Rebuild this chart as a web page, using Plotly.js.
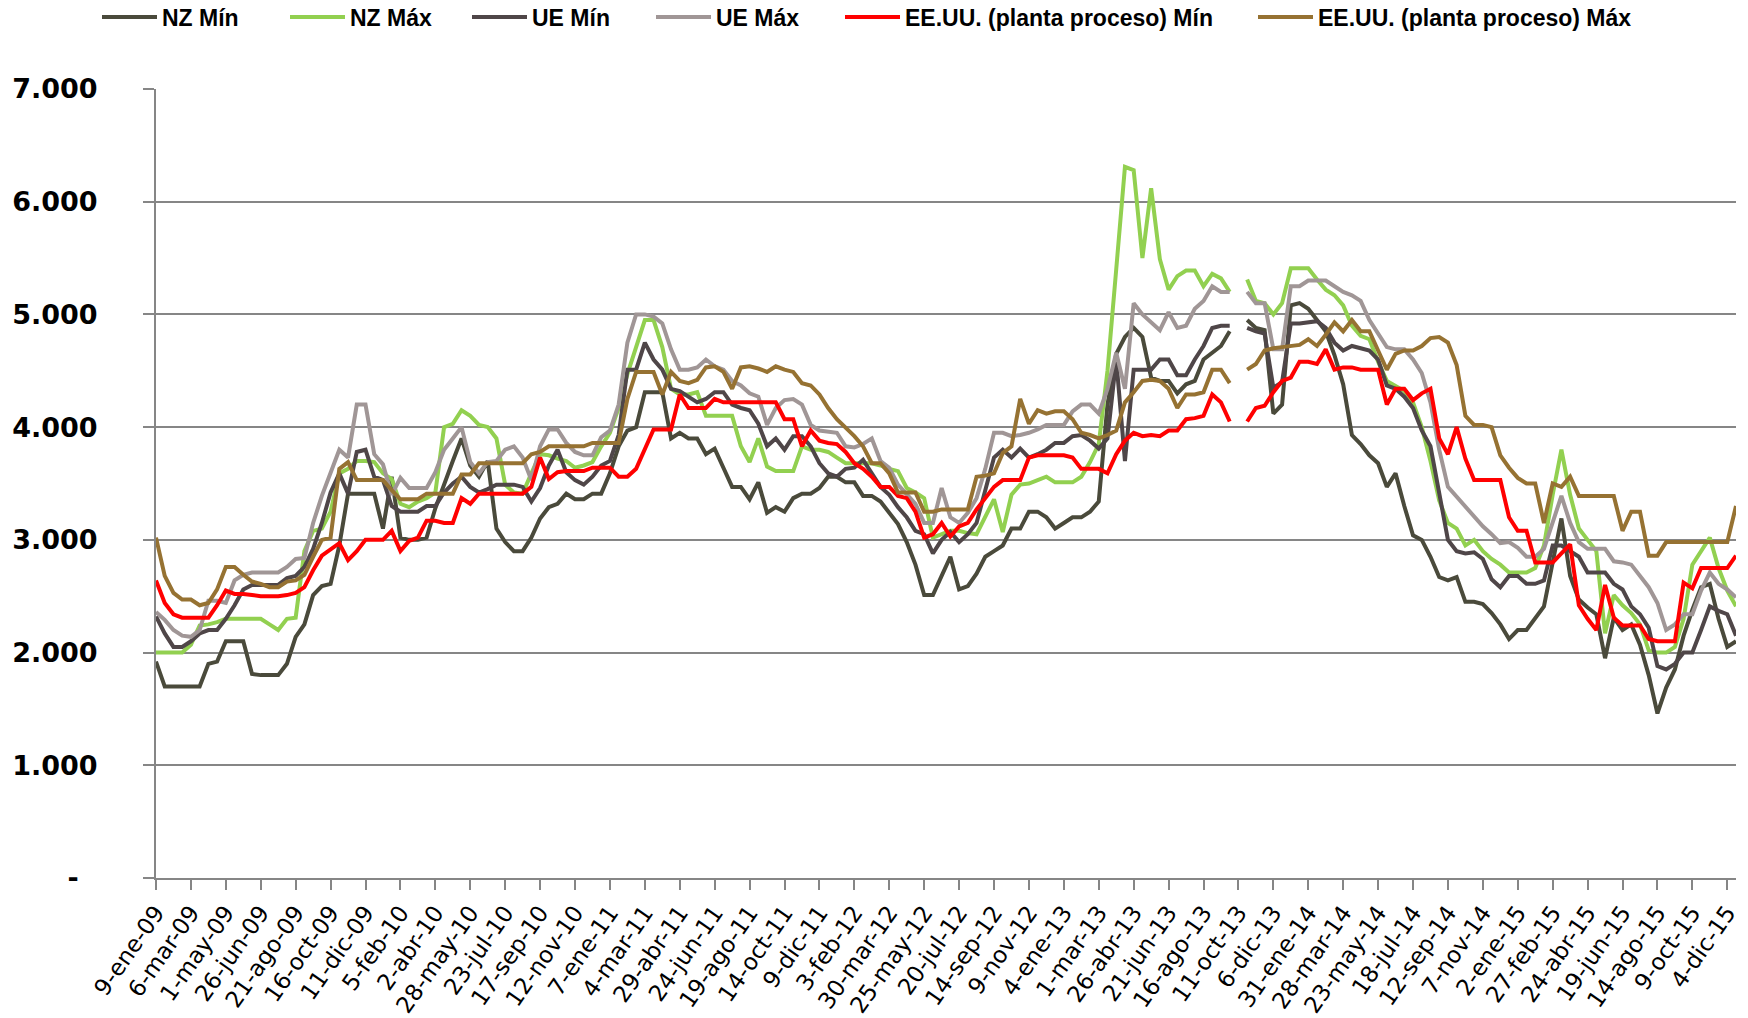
<!DOCTYPE html>
<html>
<head>
<meta charset="utf-8">
<script src="https://cdn.plot.ly/plotly-3.0.1.min.js"></script>
<style>
  html, body { margin: 0; padding: 0; background: #ffffff; }
  #chart { width: 1748px; height: 1018px; }
</style>
</head>
<body>
<div id="chart"></div>
<script>
// Tick labels (every 4th biweekly observation)
const tickLabels = ["9-ene-09","6-mar-09","1-may-09","26-jun-09","21-ago-09","16-oct-09","11-dic-09","5-feb-10","2-abr-10","28-may-10","23-jul-10","17-sep-10","12-nov-10","7-ene-11","4-mar-11","29-abr-11","24-jun-11","19-ago-11","14-oct-11","9-dic-11","3-feb-12","30-mar-12","25-may-12","20-jul-12","14-sep-12","9-nov-12","4-ene-13","1-mar-13","26-abr-13","21-jun-13","16-ago-13","11-oct-13","6-dic-13","31-ene-14","28-mar-14","23-may-14","18-jul-14","12-sep-14","7-nov-14","2-ene-15","27-feb-15","24-abr-15","19-jun-15","14-ago-15","9-oct-15","4-dic-15"];

const yTickValues = [0,1000,2000,3000,4000,5000,6000,7000];
const yTickLabels = ["-\u00a0\u00a0","1.000","2.000","3.000","4.000","5.000","6.000","7.000"];

const seriesNames = ["NZ Mín","NZ Máx","UE Mín","UE Máx","EE.UU. (planta proceso) Mín","EE.UU. (planta proceso) Máx"];

const nzMin = [1920,1700,1700,1700,1700,1700,1900,1920,2100,2100,
2100,1810,1800,1800,1800,1900,2140,2250,2510,2590,
2610,2950,3410,3410,3410,3410,3100,3560,3020,3000,
3000,3020,3280,3500,3700,3900,3660,3560,3700,3100,
2980,2900,2900,3020,3190,3290,3320,3410,3360,3360,
3410,3410,3590,3830,3970,4000,4310,4310,4310,3900,
3950,3900,3900,3760,3810,3640,3470,3470,3360,3510,
3240,3290,3250,3370,3410,3410,3460,3560,3560,3510,
3510,3390,3390,3340,3240,3140,2980,2780,2510,2510,
2680,2850,2560,2590,2700,2850,2900,2950,3100,3100,
3250,3250,3200,3100,3150,3200,3200,3250,3340,4200,
4650,4800,4880,4800,4440,4410,4410,4300,4380,4410,
4600,4660,4720,4850,null,4950,4880,4860,4120,4200,
5080,5100,5050,4950,4850,4640,4380,3930,3850,3750,
3680,3470,3590,3300,3040,3000,2850,2670,2640,2670,
2450,2450,2430,2350,2250,2120,2200,2200,2300,2410,
2800,3190,2680,2470,2400,2340,1950,2310,2200,2250,
2070,1800,1460,1690,1850,2150,2380,2580,2610,2300,
2050,2100];

const nzMax = [2000,2000,2000,2000,2070,2240,2250,2270,2300,2300,
2300,2300,2300,2250,2200,2300,2310,2900,3080,3100,
3250,3590,3630,3700,3700,3690,3590,3540,3320,3290,
3340,3370,3420,4000,4030,4150,4100,4020,4000,3900,
3490,3420,3410,3590,3760,3750,3720,3700,3640,3660,
3690,3830,3950,4170,4470,4710,4950,4950,4710,4340,
4290,4290,4310,4100,4100,4100,4100,3830,3690,3900,
3650,3610,3610,3610,3830,3800,3800,3780,3730,3680,
3680,3680,3680,3660,3630,3610,3460,3420,3370,3020,
3050,3080,3080,3060,3050,3200,3360,3070,3400,3490,
3500,3530,3560,3510,3510,3510,3560,3690,3850,4500,
5400,6310,6280,5500,6120,5490,5220,5340,5390,5390,
5250,5360,5320,5200,null,5310,5120,5100,5000,5100,
5410,5410,5410,5310,5220,5170,5080,4900,4810,4780,
4580,4410,4360,4320,4220,4000,3700,3350,3150,3100,
2950,3000,2900,2830,2780,2710,2710,2710,2750,2950,
3400,3800,3400,3100,3000,2900,2170,2510,2420,2350,
2250,2020,2000,2000,2050,2300,2780,2900,3020,2750,
2550,2410];

const ueMin = [2320,2170,2050,2050,2100,2170,2200,2200,2300,2420,
2560,2600,2600,2600,2600,2660,2680,2760,2920,3150,
3420,3590,3410,3780,3800,3560,3530,3300,3250,3250,
3250,3300,3300,3420,3500,3560,3470,3420,3450,3490,
3490,3490,3470,3340,3460,3660,3800,3600,3530,3490,
3560,3660,3700,3930,4510,4510,4750,4600,4510,4340,
4320,4270,4220,4250,4310,4310,4200,4170,4150,4030,
3830,3900,3800,3920,3920,3830,3680,3590,3560,3630,
3640,3710,3590,3470,3400,3290,3200,3080,3050,2880,
3000,3070,2980,3050,3150,3450,3730,3800,3730,3810,
3730,3760,3800,3860,3860,3920,3930,3880,3810,3900,
4600,3700,4510,4510,4510,4600,4600,4460,4460,4600,
4720,4880,4900,4900,null,4880,4850,4830,4350,4400,
4920,4920,4930,4940,4880,4750,4680,4720,4700,4680,
4600,4370,4340,4270,4170,3970,3830,3400,3000,2900,
2880,2890,2830,2650,2580,2680,2680,2610,2610,2640,
2950,2950,2900,2850,2710,2710,2710,2610,2560,2410,
2340,2220,1880,1850,1900,2000,2000,2200,2410,2370,
2340,2150];

const ueMax = [2360,2290,2200,2150,2140,2200,2460,2460,2440,2640,
2690,2710,2710,2710,2710,2760,2830,2840,3150,3390,
3590,3800,3730,4200,4200,3760,3670,3400,3550,3460,
3460,3460,3600,3800,3900,4000,3690,3590,3690,3700,
3800,3830,3730,3530,3830,3980,3980,3860,3780,3750,
3750,3910,3970,4200,4750,5000,5000,4980,4920,4690,
4510,4510,4530,4600,4540,4510,4410,4370,4300,4270,
4020,4170,4240,4250,4200,4020,3970,3960,3950,3830,
3820,3850,3900,3700,3640,3490,3400,3320,3150,3150,
3460,3200,3150,3240,3370,3630,3950,3950,3920,3930,
3950,3980,4020,4020,4020,4140,4200,4200,4120,4340,
4660,4340,5100,5000,4930,4860,5020,4880,4900,5050,
5120,5250,5200,5200,null,5200,5100,5100,4690,4690,
5250,5250,5300,5300,5300,5250,5200,5170,5120,4950,
4830,4710,4690,4690,4600,4480,4220,3800,3470,3380,
3290,3200,3120,3050,2970,2980,2930,2850,2850,2920,
3150,3390,3150,2980,2920,2920,2920,2810,2800,2780,
2680,2580,2440,2200,2250,2340,2340,2550,2710,2610,
2560,2490];

const usMin = [2640,2440,2340,2310,2310,2310,2310,2420,2550,2520,
2520,2510,2500,2500,2500,2510,2530,2580,2730,2860,
2920,2970,2820,2900,3000,3000,3000,3080,2900,2990,
3020,3170,3170,3150,3150,3370,3320,3410,3410,3410,
3410,3410,3410,3470,3730,3540,3600,3610,3610,3610,
3640,3640,3640,3560,3560,3630,3800,3980,3980,3980,
4290,4170,4170,4170,4250,4220,4220,4220,4220,4220,
4220,4220,4070,4070,3830,3970,3880,3860,3850,3780,
3680,3630,3560,3470,3470,3390,3370,3250,3020,3050,
3150,3030,3120,3150,3270,3370,3470,3530,3530,3530,
3730,3750,3750,3750,3750,3730,3630,3630,3630,3590,
3760,3880,3950,3920,3930,3920,3970,3970,4070,4080,
4100,4290,4220,4050,null,4050,4170,4190,4310,4410,
4440,4580,4580,4560,4690,4510,4530,4530,4510,4510,
4510,4200,4340,4340,4240,4300,4340,3900,3760,4000,
3720,3530,3530,3530,3530,3200,3080,3080,2800,2800,
2800,2880,2960,2420,2300,2200,2600,2310,2240,2240,
2240,2120,2100,2100,2100,2620,2570,2750,2750,2750,
2750,2860];

const usMax = [3020,2680,2530,2470,2470,2420,2440,2560,2760,2760,
2690,2630,2610,2580,2580,2630,2640,2690,2850,3000,
3020,3630,3690,3530,3530,3530,3530,3440,3360,3360,
3360,3410,3410,3410,3410,3580,3580,3680,3680,3680,
3680,3680,3680,3760,3780,3830,3830,3830,3830,3830,
3860,3860,3860,3860,4250,4490,4490,4490,4290,4490,
4410,4390,4420,4530,4540,4490,4340,4530,4540,4520,
4490,4540,4510,4490,4390,4370,4290,4170,4070,4000,
3920,3830,3680,3680,3590,3420,3420,3420,3250,3250,
3270,3270,3270,3270,3560,3570,3590,3770,3830,4250,
4030,4150,4120,4140,4140,4070,3950,3930,3900,3930,
3970,4220,4310,4410,4420,4410,4340,4170,4290,4290,
4310,4510,4510,4390,null,4510,4560,4680,4700,4710,
4720,4730,4780,4720,4820,4930,4850,4950,4850,4850,
4680,4510,4650,4680,4680,4720,4790,4800,4750,4550,
4100,4020,4020,4000,3750,3640,3550,3500,3500,3150,
3500,3470,3560,3390,3390,3390,3390,3390,3080,3250,
3250,2860,2860,2980,2980,2980,2980,2980,2980,2980,
2980,3300];

const seriesColors = ["#4a4a3b","#92d050","#4f4648","#a09696","#ff0000","#967232"];
const allSeries = [nzMin, nzMax, ueMin, ueMax, usMin, usMax];

// one legend per entry so each entry sits where the original puts it
const legendIds = ["legend","legend2","legend3","legend4","legend5","legend6"];
const legendLeftPx = [97, 285, 467, 651, 840, 1253];

const M = { l: 156, r: 12, t: 89, b: 140 };
const W = 1748, H = 1018;
const plotW = W - M.l - M.r, plotH = H - M.t - M.b;

const traces = allSeries.map((vals, k) => ({
  type: "scatter",
  mode: "lines",
  name: seriesNames[k],
  legend: legendIds[k],
  x: vals.map((_, i) => i),
  y: vals,
  connectgaps: false,
  line: { color: seriesColors[k], width: 4 },
  hoverinfo: "skip"
}));

const tickPositions = tickLabels.map((_, k) => 4 * k);

const layout = {
  width: W,
  height: H,
  paper_bgcolor: "#ffffff",
  plot_bgcolor: "#ffffff",
  margin: { l: M.l, r: M.r, t: M.t, b: M.b, autoexpand: false },
  showlegend: true,
  xaxis: {
    type: "linear",
    range: [0, 181],
    tickmode: "array",
    tickvals: tickPositions,
    ticktext: tickLabels,
    tickangle: -55,
    tickfont: { family: "DejaVu Sans", size: 23, color: "#000000" },
    ticks: "outside",
    ticklen: 10,
    tickwidth: 2,
    tickcolor: "#868686",
    showline: true,
    linecolor: "#868686",
    linewidth: 2,
    showgrid: false,
    zeroline: false,
    automargin: false,
    fixedrange: true
  },
  yaxis: {
    range: [0, 7000],
    tickmode: "array",
    tickvals: yTickValues,
    ticktext: yTickLabels,
    tickfont: { family: "DejaVu Sans", size: 27, color: "#000000", weight: "bold" },
    ticks: "outside",
    ticklen: 11,
    tickwidth: 2,
    tickcolor: "#868686",
    ticklabelstandoff: 40,
    showline: true,
    linecolor: "#868686",
    linewidth: 2,
    showgrid: true,
    gridcolor: "#868686",
    gridwidth: 2,
    zeroline: false,
    automargin: false,
    fixedrange: true
  }
};

legendIds.forEach((id, k) => {
  layout[id] = {
    orientation: "h",
    x: (legendLeftPx[k] - M.l) / plotW,
    xanchor: "left",
    y: (H - M.b - 17) / plotH,
    yanchor: "middle",
    font: { family: "Liberation Sans Narrow, Liberation Sans, sans-serif", size: 23, color: "#000000", weight: "bold" },
    itemwidth: 55,
    bgcolor: "rgba(0,0,0,0)"
  };
});

Plotly.newPlot("chart", traces, layout, { displayModeBar: false, staticPlot: true });
</script>
</body>
</html>
